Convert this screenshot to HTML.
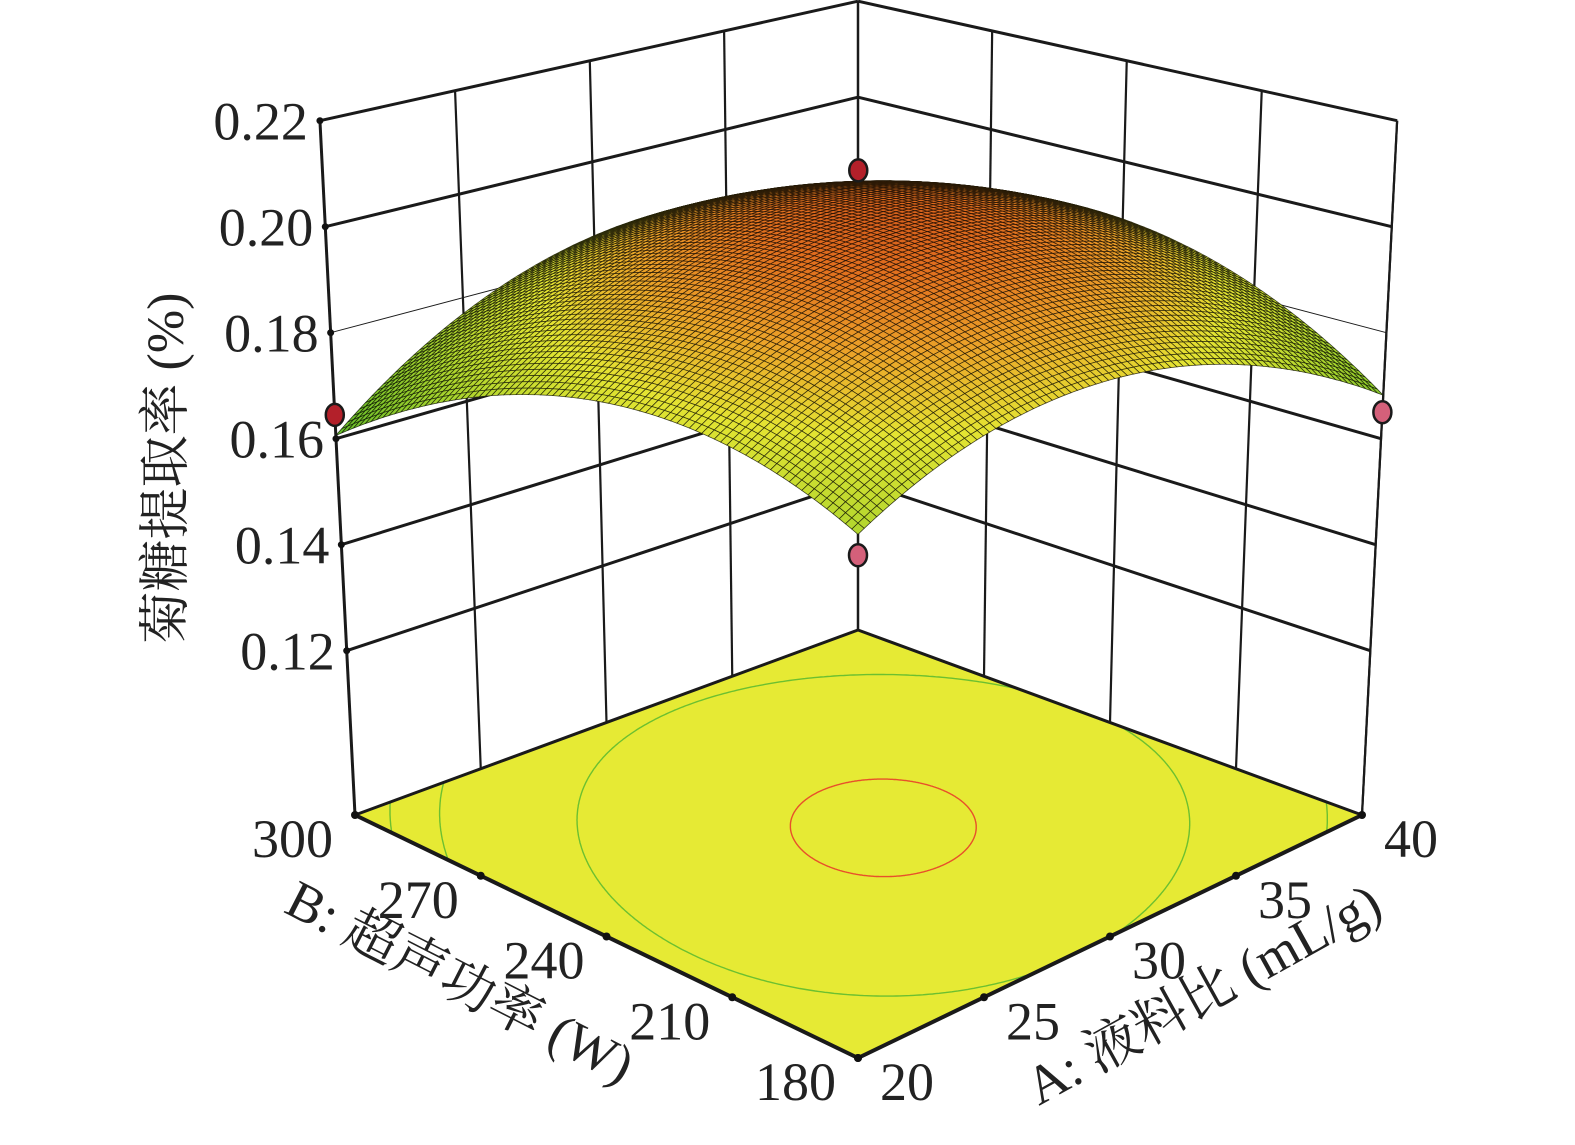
<!DOCTYPE html>
<html><head><meta charset="utf-8"><style>
html,body{margin:0;padding:0;background:#fff;}
svg{display:block;}
text{font-family:"Liberation Serif","Noto Serif CJK SC","Noto Sans CJK SC",serif;fill:#222;}
</style></head><body>
<svg id="chart" width="1575" height="1145" viewBox="0 0 1575 1145" xmlns="http://www.w3.org/2000/svg">
<g id="walls"></g>
<g id="floor"></g>
<g id="surface"></g>
<g id="axes"></g>
<g id="points"></g>
<text x="0" y="0" font-size="52" text-anchor="middle" transform="translate(183,468) rotate(-90)">菊糖提取率 (%)</text>
<text x="0" y="0" font-size="54" text-anchor="middle" transform="translate(452,998) rotate(27)">B: 超声功率 (W)</text>
<text x="0" y="0" font-size="54" text-anchor="middle" transform="translate(1212,1010) rotate(-29)">A: 液料比 (mL/g)</text>
</svg>
<script>
// ---- data ----
const aTicks = [20, 25, 30, 35, 40];
const bTicks = [180, 210, 240, 270, 300];
const zTicks = [0.12, 0.14, 0.16, 0.18, 0.20, 0.22];
const zTickLabels = ["0.12", "0.14", "0.16", "0.18", "0.20", "0.22"];
// quadratic model coefficients (coded units): b0, A, B, A^2, B^2, AB
const coefNames = ["b0", "A", "B", "AA", "BB", "AB"];
const coefValues = [0.2025, 0.0022, -0.0016, -0.0160, -0.0155, 0.0066];
const contourLevels = [0.2013, 0.1885, 0.173, 0.166];
const contourColors = ["#e8502a", "#6cc030", "#6cc030", "#6cc030"];
// design points: A, B, response
const ptA = [30, 20, 20, 40];
const ptB = [240, 300, 180, 180];
const ptZ = [0.2125, 0.1645, 0.1735, 0.1650];

const NS = "http://www.w3.org/2000/svg";
const Z0 = 0.089, ZMAX = 0.22;
const F = [858, 1058], R = [1362, 815], L = [355, 815], BK = [858, 630];
const sF = 5950, sR = 5300, sL = 5300, sB = 4800;
function uOf(a) { return (a - 20) / 20; }
function vOf(b) { return (b - 180) / 120; }
function proj(u, v, z) {
  const w = [(1-u)*(1-v), u*(1-v), (1-u)*v, u*v];
  const x = w[0]*F[0] + w[1]*R[0] + w[2]*L[0] + w[3]*BK[0];
  const y = w[0]*F[1] + w[1]*R[1] + w[2]*L[1] + w[3]*BK[1];
  const s = w[0]*sF + w[1]*sR + w[2]*sL + w[3]*sB;
  const H = (z - Z0) * s;
  return [x + (x - 858) * H * 1.004e-4, y - H];
}
function model(u, v) {
  const a = 2*u - 1, b = 2*v - 1, c = coefValues;
  return c[0] + c[1]*a + c[2]*b + c[3]*a*a + c[4]*b*b + c[5]*a*b;
}
function el(tag, attrs, parent) {
  const e = document.createElementNS(NS, tag);
  for (const k in attrs) e.setAttribute(k, attrs[k]);
  parent.appendChild(e); return e;
}
function line(p, q, w, parent, name) {
  const e = el("line", {x1: p[0], y1: p[1], x2: q[0], y2: q[1], stroke: "#1a1a1a", "stroke-width": w}, parent);
  
  
  return e;
}
const walls = document.getElementById("walls");
zTicks.forEach((z, i) => {
  line(proj(0, 1, z), proj(1, 1, z), i === 3 ? 1 : 3, walls, 'left-wall-gridline');
  line(proj(1, 1, z), proj(1, 0, z), i === 3 ? 1 : 3, walls, 'right-wall-gridline');
});
aTicks.forEach(a => { line(proj(uOf(a), 1, Z0), proj(uOf(a), 1, ZMAX), 2.2, walls, 'left-wall-vertical'); });
bTicks.forEach(b => { line(proj(1, vOf(b), Z0), proj(1, vOf(b), ZMAX), 2.2, walls, 'right-wall-vertical'); });
line(proj(1,1,Z0), proj(1,1,ZMAX), 2.2, walls, 'back-vertical-edge');
line(proj(1,0,Z0), proj(1,0,ZMAX), 2.2, walls, 'right-vertical-edge');

// floor
const floor = document.getElementById("floor");
const fp = [proj(0,0,Z0), proj(1,0,Z0), proj(1,1,Z0), proj(0,1,Z0)];
const fl = el("polygon", {points: fp.map(p => p.join(",")).join(" "), fill: "#e6ea34"}, floor);


let pu = 0.5, pv = 0.5, best = -1;
for (let i = 0; i <= 100; i++) for (let j = 0; j <= 100; j++) {
  const z = model(i/100, j/100); if (z > best) { best = z; pu = i/100; pv = j/100; }
}
contourLevels.forEach((lev, li) => {
  let d = "", pen = false;
  for (let k = 0; k <= 720; k++) {
    const th = k / 720 * 2 * Math.PI, dx = Math.cos(th), dy = Math.sin(th);
    let lo = 0, hi = 2;
    for (let it = 0; it < 40; it++) {
      const m = (lo + hi) / 2;
      if (model(pu + dx*m, pv + dy*m) > lev) lo = m; else hi = m;
    }
    const u = pu + dx*lo, v = pv + dy*lo;
    if (u < 0 || u > 1 || v < 0 || v > 1) { pen = false; continue; }
    const p = proj(u, v, Z0);
    d += (pen ? "L" : "M") + p[0].toFixed(1) + "," + p[1].toFixed(1);
    pen = true;
  }
  const c = el("path", {d: d, fill: "none", stroke: contourColors[li], "stroke-width": 1.4}, floor);
  
  
});
line(fp[3], fp[0], 4, floor, 'floor-edge-b');
line(fp[0], fp[1], 4, floor, 'floor-edge-a');
line(fp[3], fp[2], 3, floor, 'floor-edge-back-left');
line(fp[2], fp[1], 3, floor, 'floor-edge-back-right');

// surface
function lerpC(c1, c2, t) { return c1.map((v, i) => Math.round(v + (c2[i]-v)*t)); }
const cz = [0.160, 0.176, 0.187, 0.195, 0.201, 0.207];
const cc = [[95,185,40],[170,212,45],[228,228,50],[235,160,40],[225,110,30],[195,65,25]];
function colorOf(z) {
  if (z <= cz[0]) return cc[0];
  for (let i = 1; i < cz.length; i++) if (z <= cz[i]) return lerpC(cc[i-1], cc[i], (z-cz[i-1])/(cz[i]-cz[i-1]));
  return cc[cc.length-1];
}
const surf = document.getElementById("surface");
const N = 85;
const quads = [];
for (let i = 0; i < N; i++) for (let j = 0; j < N; j++) quads.push([i, j]);
quads.sort((a, b) => (b[0] + b[1]) - (a[0] + a[1]));
let frag = "";
quads.forEach(([i, j]) => {
  const u0 = i/N, u1 = (i+1)/N, v0 = j/N, v1 = (j+1)/N;
  const ps = [[u0,v0],[u1,v0],[u1,v1],[u0,v1]].map(q => proj(q[0], q[1], model(q[0], q[1])));
  const z = model((u0+u1)/2, (v0+v1)/2);
  const c = colorOf(z);
  frag += '<polygon points="' + ps.map(p => p[0].toFixed(1)+","+p[1].toFixed(1)).join(" ") +
    '" fill="rgb(' + c.join(",") + ')" stroke="rgb(' + c.map(v => Math.round(v*0.15)).join(",") + ')" stroke-width="0.75" stroke-opacity="0.85"/>';
});
surf.innerHTML = frag;

// axes
const axes = document.getElementById("axes");
line(proj(0,1,Z0), proj(0,1,ZMAX), 3, axes, 'z-axis-line');
zTicks.forEach((z, i) => {
  const p = proj(0, 1, z);
  const d = el("circle", {cx: p[0], cy: p[1], r: 3.5, fill: "#111"}, axes);
  
  
  const t = el("text", {x: p[0] - 12, y: p[1] + 19, "font-size": 54, "text-anchor": "end"}, axes);
  t.textContent = zTickLabels[i];
  
  
});
bTicks.forEach(b => {
  const p = proj(0, vOf(b), Z0);
  const d = el("circle", {cx: p[0], cy: p[1], r: 4, fill: "#111"}, axes);
  
  
  const t = el("text", {x: p[0] - 22, y: p[1] + 42, "font-size": 54, "text-anchor": "end"}, axes);
  t.textContent = String(b);
  
  
});
aTicks.forEach(a => {
  const p = proj(uOf(a), 0, Z0);
  const d = el("circle", {cx: p[0], cy: p[1], r: 4, fill: "#111"}, axes);
  
  
  const t = el("text", {x: p[0] + 22, y: p[1] + 42, "font-size": 54, "text-anchor": "start"}, axes);
  t.textContent = String(a);
  
  
});

// design points
const pts = document.getElementById("points");
ptA.forEach((a, i) => {
  const u = uOf(a), v = vOf(ptB[i]);
  const p = proj(u, v, ptZ[i]);
  const above = ptZ[i] > model(u, v);
  const e = el("ellipse", {cx: p[0], cy: p[1], rx: 9, ry: 11, fill: above ? "#b3202a" : "#d4607a", stroke: "#1a1a1a", "stroke-width": 2.5}, pts);
  
  
});
</script>
</body></html>
